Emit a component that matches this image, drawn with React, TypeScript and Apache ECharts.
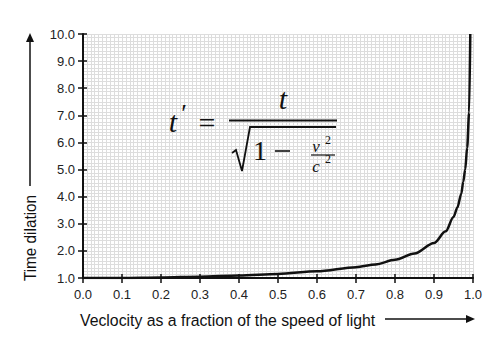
import React, { useEffect, useRef } from "react";
import * as echarts from "echarts";

const velocity = [0, 0.1, 0.2, 0.3, 0.4, 0.5, 0.6, 0.7, 0.75, 0.8, 0.85, 0.9, 0.93, 0.95, 0.96, 0.97, 0.975, 0.98, 0.985, 0.99, 0.993];
const dilation = [1.0, 1.0, 1.02, 1.05, 1.09, 1.15, 1.25, 1.4, 1.5, 1.67, 1.9, 2.29, 2.72, 3.25, 3.6, 4.11, 4.55, 5.0, 5.8, 7.1, 10.0];

const xTitle = "Veclocity as a fraction of the speed of light";
const yTitle = "Time dilation";

const SANS = "'Liberation Sans', Arial, sans-serif";
const SERIF = "'Liberation Serif', 'DejaVu Serif', serif";
const GRID = "#dddddd";

function txt(x: number, y: number, text: string, size: number, italic: boolean, family: string, extra: any = {}) {
  return {
    type: "text",
    x,
    y,
    z: 100,
    ...extra,
    style: {
      text,
      fontSize: size,
      fontStyle: italic ? "italic" : "normal",
      fontFamily: family,
      fill: "#111",
      align: extra.align || "center",
      verticalAlign: "middle",
    },
  };
}

export default function App() {
  const ref = useRef<HTMLDivElement>(null);
  useEffect(() => {
    if (!ref.current) return;
    const chart = echarts.init(ref.current, null, { renderer: "svg" });
    const baseX = { type: "value", min: 0, max: 1, interval: 0.1, position: "bottom" };
    const baseY = { type: "value", min: 1, max: 10, interval: 1, position: "left" };
    const formula = [
      txt(173, 121, "t", 30, true, SERIF),
      txt(184, 113, "′", 26, false, SERIF),
      txt(207, 122, "=", 30, false, SERIF),
      txt(283, 98, "t", 30, true, SERIF),
      { type: "line", z: 100, shape: { x1: 229, y1: 120.5, x2: 337, y2: 120.5 }, style: { stroke: "#111", lineWidth: 2 } },
      { type: "polyline", z: 100, shape: { points: [[232, 153], [236, 150], [242, 171], [250, 127], [336, 127]] }, style: { stroke: "#111", lineWidth: 1.8, fill: null } },
      txt(260, 150, "1", 28, false, SERIF),
      { type: "line", z: 100, shape: { x1: 275, y1: 151, x2: 290, y2: 151 }, style: { stroke: "#111", lineWidth: 1.6 } },
      txt(316, 146.5, "v", 17, true, SERIF),
      txt(328, 140, "2", 12, false, SERIF),
      { type: "line", z: 100, shape: { x1: 311, y1: 155, x2: 335, y2: 155 }, style: { stroke: "#111", lineWidth: 1.2 } },
      txt(316, 166, "c", 17, true, SERIF),
      txt(328, 159, "2", 12, false, SERIF),
    ];
    const option: any = {
      animation: false,
      backgroundColor: "#ffffff",
      grid: { left: 83, right: 27, top: 34, bottom: 74 },
      xAxis: [
        {
          ...baseX,
          axisLine: { show: true, lineStyle: { color: "#111", width: 2 } },
          axisTick: { show: true, inside: false, length: 5, lineStyle: { color: "#111", width: 1.5 } },
          axisLabel: { show: true, margin: 10, color: "#222", fontSize: 13, fontFamily: SANS, formatter: (v: number) => v.toFixed(1) },
          splitLine: { show: true, lineStyle: { color: GRID, width: 1 } },
          minorTick: { show: false, splitNumber: 10 },
          minorSplitLine: { show: true, lineStyle: { color: GRID, width: 1 } },
        },
        {
          ...baseX,
          axisLine: { show: false },
          axisTick: { show: true, inside: true, length: 4, lineStyle: { color: "#111", width: 1.5 } },
          axisLabel: { show: false },
          splitLine: { show: false },
        },
      ],
      yAxis: [
        {
          ...baseY,
          axisLine: { show: true, lineStyle: { color: "#111", width: 2 } },
          axisTick: { show: true, inside: false, length: 5, lineStyle: { color: "#111", width: 1.5 } },
          axisLabel: { show: true, margin: 8, color: "#222", fontSize: 13, fontFamily: SANS, formatter: (v: number) => v.toFixed(1) },
          splitLine: { show: true, lineStyle: { color: GRID, width: 1 } },
          minorTick: { show: false, splitNumber: 8 },
          minorSplitLine: { show: true, lineStyle: { color: GRID, width: 1 } },
        },
        {
          ...baseY,
          axisLine: { show: false },
          axisTick: { show: true, inside: true, length: 4, lineStyle: { color: "#111", width: 1.5 } },
          axisLabel: { show: false },
          splitLine: { show: false },
        },
      ],
      series: [
        {
          type: "line",
          data: velocity.map((v, i) => [v, dilation[i]]),
          showSymbol: false,
          smooth: 0.3,
          smoothMonotone: "x",
          lineStyle: { color: "#111", width: 2.5 },
          clip: true,
          z: 5,
        },
      ],
      graphic: [
        txt(80, 320, xTitle, 17, false, SANS, { align: "left", scaleX: 0.93 }),
        { type: "line", z: 100, shape: { x1: 385, y1: 319, x2: 468, y2: 319 }, style: { stroke: "#111", lineWidth: 1.5 } },
        { type: "polygon", z: 100, shape: { points: [[475, 319], [466, 315], [466, 323]] }, style: { fill: "#111" } },
        txt(30, 238, yTitle, 17, false, SANS, { rotation: Math.PI / 2, scaleX: 0.9 }),
        { type: "line", z: 100, shape: { x1: 30, y1: 186, x2: 30, y2: 40 }, style: { stroke: "#111", lineWidth: 1.5 } },
        { type: "polygon", z: 100, shape: { points: [[30, 33], [26, 42], [34, 42]] }, style: { fill: "#111" } },
        ...formula,
      ],
    };
    chart.setOption(option);
    return () => chart.dispose();
  }, []);
  return <div ref={ref} style={{ position: "fixed", left: 0, top: 0, width: 500, height: 352 }} />;
}
